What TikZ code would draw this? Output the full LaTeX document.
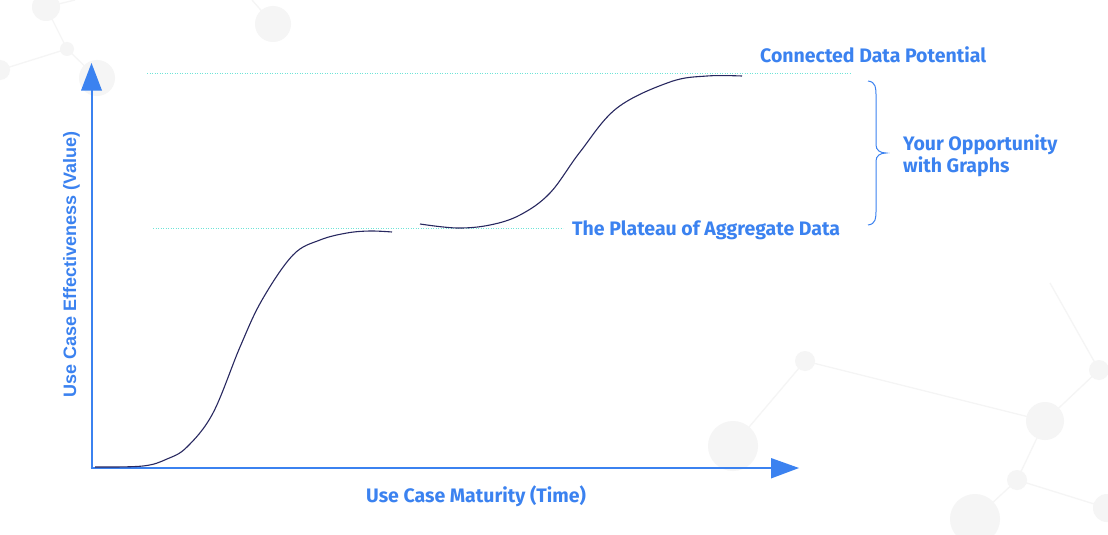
\documentclass[tikz,border=0pt]{standalone}
\usepackage{fontspec}
\setmainfont{Fira Sans}
\newfontfamily\labfont{Fira Sans}[UprightFont=* Bold]
\newfontfamily\yfont{Liberation Sans}[UprightFont=* Bold]
\definecolor{axisblue}{RGB}{59,130,240}
\definecolor{curvenavy}{RGB}{40,40,96}
\definecolor{guide}{RGB}{110,228,215}
\definecolor{bgdeco}{RGB}{245,245,245}
\tikzset{
  deco/.style={fill=bgdeco, draw=none},
  decoline/.style={draw=bgdeco, line width=1.3pt},
  axisline/.style={draw=axisblue, line width=2pt},
  tip/.style={fill=axisblue, draw=none},
  guideline/.style={draw=guide, line width=0.9pt, dash pattern=on 0.9pt off 1.6pt},
  curve/.style={draw=curvenavy, line width=1.1pt},
  lab/.style={text=axisblue, font=\labfont\fontsize{19.5}{23}\selectfont, inner sep=0pt},
  ylab/.style={text=axisblue, font=\yfont\fontsize{18}{21}\selectfont, inner sep=0pt},
}
\begin{document}
\begin{tikzpicture}[x=1pt,y=-1pt]
\useasboundingbox (0,0) rectangle (1108,535);
\fill[white] (0,0) rectangle (1108,535);
% background decoration top-left
\coordinate (t1) at (46,7);
\coordinate (t2) at (67,49);
\coordinate (t3) at (0,70);
\coordinate (t4) at (97,78);
\coordinate (t5) at (273,24);
\coordinate (t6) at (75,0);
\coordinate (t7) at (252,0);
\draw[decoline] (t6) -- (t1) -- (t2) -- (t3);
\draw[decoline] (t2) -- (t4);
\draw[decoline] (t5) -- (t7);
\fill[deco] (t1) circle (14);
\fill[deco] (t2) circle (7);
\fill[deco] (t3) circle (10);
\fill[deco] (t4) circle (18);
\fill[deco] (t5) circle (18);
% background decoration bottom-right
\coordinate (b1) at (733,446);
\coordinate (b2) at (805,361);
\coordinate (b3) at (1045,421);
\coordinate (b4) at (1099,370);
\coordinate (b5) at (1017,480);
\coordinate (b6) at (975,519);
\coordinate (b7) at (1107,508);
\coordinate (b8) at (1050,283);
\draw[decoline] (b1) -- (b2) -- (b3) -- (b4) -- (b8);
\draw[decoline] (b3) -- (b5) -- (b6);
\draw[decoline] (b5) -- (b7);
\fill[deco] (b1) circle (25);
\fill[deco] (b2) circle (10);
\fill[deco] (b3) circle (19);
\fill[deco] (b4) circle (10);
\fill[deco] (b5) circle (10);
\fill[deco] (b6) circle (25);
\fill[deco] (b7) circle (14);
% guide lines
\coordinate (g1a) at (147,73);
\coordinate (g1b) at (851,73);
\coordinate (g2a) at (153,228);
\coordinate (g2b) at (563,228);
\draw[guideline] (g1a) -- (g1b);
\draw[guideline] (g2a) -- (g2b);
% axes
\coordinate (origin) at (91.5,468);
\coordinate (ytop) at (91.5,90);
\coordinate (xstart) at (90.5,468);
\coordinate (xend) at (771,468);
\draw[axisline] (origin) -- (ytop);
\draw[axisline] (xstart) -- (xend);
\fill[tip] (81,90.5) -- (91.5,63) -- (102,90.5) -- cycle;
\fill[tip] (771,458) -- (799,468) -- (771,478.5) -- cycle;
% curves
\draw[curve] plot[smooth, tension=0.6] coordinates {(95,467) (143,466) (167,459) (187,447) (213,413) (240,347) (262,300) (293,255) (320,240) (347,233) (370,231) (392,232)};
\draw[curve] plot[smooth, tension=0.6] coordinates {(420,224) (457,228) (490,225) (520,215) (550,193) (580,152) (617,108) (670,82) (707,76) (742,76)};
% brace
\draw[draw=axisblue, line width=1pt] (868,81) .. controls (876,82) and (876,88) .. (876,96) -- (876,145) .. controls (876,150) and (880,153) .. (886,153) .. controls (880,153) and (876,156) .. (876,161) -- (876,210) .. controls (876,218) and (876,224) .. (868,225);
% labels
\node[lab, anchor=base west] (potential) at (760,63) {Connected Data Potential};
\node[lab, anchor=base west] (opp1) at (903,150) {Your Opportunity};
\node[lab, anchor=base west] (opp2) at (903,172) {with Graphs};
\node[lab, anchor=base west] (plateau) at (572,235) {The Plateau of Aggregate Data};
\node[lab, anchor=base west] (xlab) at (366,502) {Use Case Maturity (Time)};
\node[ylab, anchor=base west, rotate=90] (ylab) at (76,398) {Use Case Effectiveness (Value)};
\end{tikzpicture}
\end{document}
